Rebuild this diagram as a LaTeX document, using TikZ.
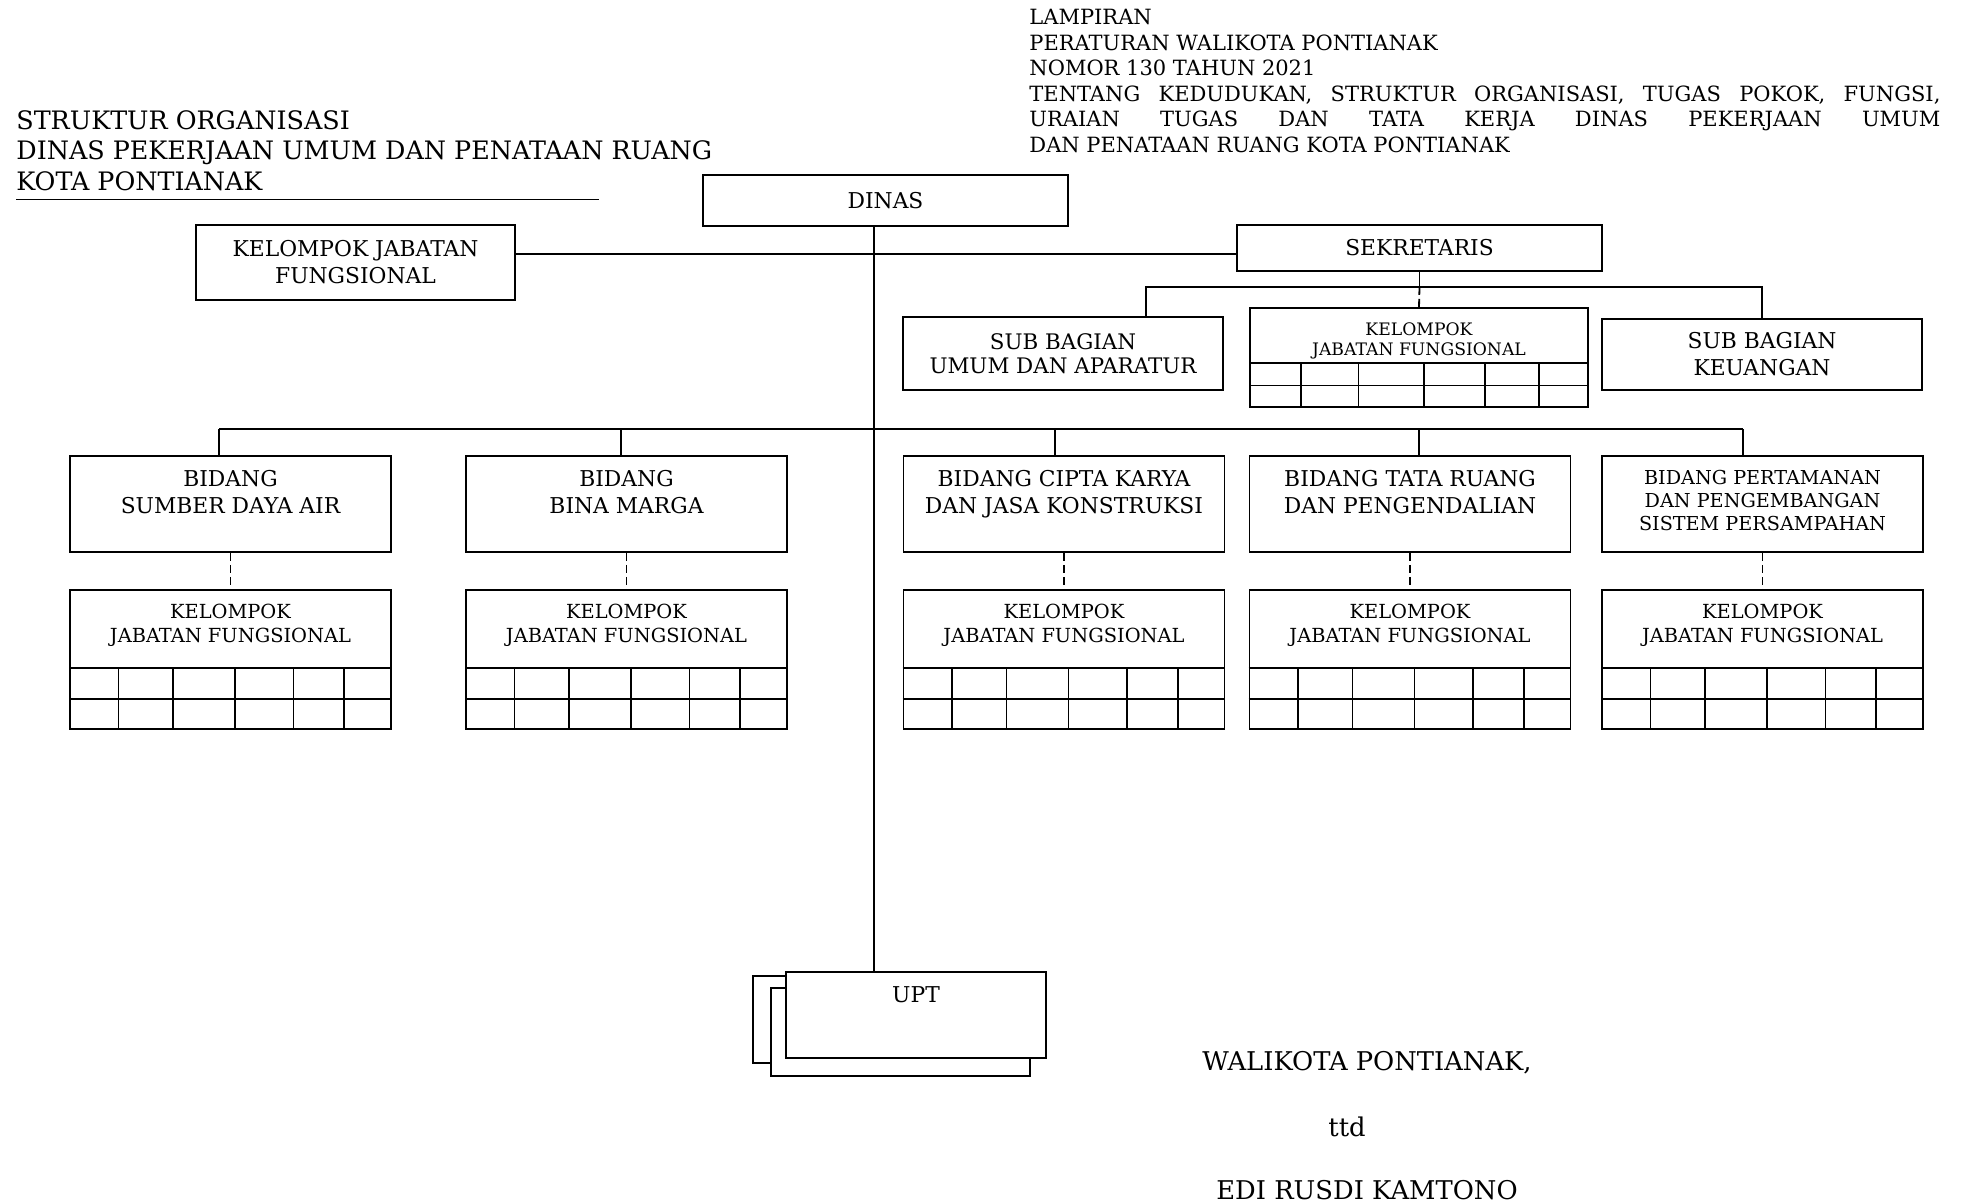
\documentclass[tikz,border=0pt]{standalone}
\usepackage{fontspec}
\setmainfont{DejaVu Serif}
\usetikzlibrary{positioning,calc}
\tikzset{orgbox/.style={draw,fill=white,line width=0.9pt,inner sep=0pt,align=center,
    font=\fontsize{10.9}{13.5}\selectfont},
  bidang/.style={orgbox,minimum width=160.5pt,minimum height=48pt},
  jfbox/.style={orgbox,minimum width=160.5pt,minimum height=69.5pt,font=\fontsize{9.7}{12}\selectfont},
  link/.style={line width=0.9pt},
  jflink/.style={link,dash pattern=on 4pt off 2pt}}
\newcommand{\topbox}[3][150pt]{\parbox[c][#2][t]{#1}{\centering\vspace*{7.2pt}#3}}
\newcommand{\jfgrid}[2]{%
  \draw[link] ([yshift=#2]#1.south west) -- ([yshift=#2]#1.south east)
    ([yshift=#2/2]#1.south west) -- ([yshift=#2/2]#1.south east);
  \foreach \f in {0.153,0.322,0.514,0.695,0.852}
    \draw[link] ($(#1.south west)!\f!(#1.south east)$) -- ++(0,#2);}

\begin{document}
\begin{tikzpicture}[x=0.5pt,y=-0.5pt]
\fill[white] (0,0) rectangle (1965,1204);
\useasboundingbox (0,0) rectangle (1965,1204);

\node[anchor=north west,inner sep=0pt,align=left,font=\fontsize{12.7}{15.25}\selectfont] (title) at (16,110)
  {STRUKTUR ORGANISASI\\DINAS PEKERJAAN UMUM DAN PENATAAN RUANG\\KOTA PONTIANAK};
\draw[link] ([yshift=-4.25pt]title.south west) -- ++(291.5pt,0);
\node[anchor=north west,inner sep=0pt,font=\fontsize{10.5}{12.75}\selectfont] (lampiran) at (1029,9)
  {\parbox[t]{455.5pt}{LAMPIRAN\\PERATURAN WALIKOTA PONTIANAK\\NOMOR 130 TAHUN 2021\\
   \makebox[\linewidth][s]{TENTANG KEDUDUKAN, STRUKTUR ORGANISASI, TUGAS POKOK, FUNGSI,}\\
   \makebox[\linewidth][s]{URAIAN TUGAS DAN TATA KERJA DINAS PEKERJAAN UMUM}\\
   DAN PENATAAN RUANG KOTA PONTIANAK}};

\node[orgbox,minimum width=182.5pt,minimum height=25.5pt] (dinas) at (885.5,200.5) {DINAS};
\node[orgbox,minimum width=159.5pt,minimum height=37.5pt] (kjf) at (355.5,262.5) {KELOMPOK JABATAN\\FUNGSIONAL};
\node[orgbox,minimum width=182.5pt,minimum height=23pt] (sekr) at (1419.5,248) {SEKRETARIS};
\node[orgbox,minimum width=160pt,minimum height=36.5pt,font=\fontsize{10.7}{12}\selectfont] (umum) at (1063,353.5) {SUB BAGIAN\\UMUM DAN APARATUR};
\node[jfbox,minimum width=169pt,minimum height=49.5pt,font=\fontsize{8.6}{10}\selectfont] (jfsek) at (1419,357.5)
  {\topbox{49.5pt}{KELOMPOK\\JABATAN FUNGSIONAL}};
\node[orgbox,minimum width=160pt,minimum height=35.5pt] (keu) at (1762,354.5) {SUB BAGIAN\\KEUANGAN};

\node[bidang] (b1) at (230.5,504) {\topbox{48pt}{BIDANG\\SUMBER DAYA AIR}};
\node[bidang] (b2) at (626.5,504) {\topbox{48pt}{BIDANG\\BINA MARGA}};
\node[bidang] (b3) at (1064,504) {\topbox{48pt}{BIDANG CIPTA KARYA\\DAN JASA KONSTRUKSI}};
\node[bidang] (b4) at (1410,504) {\topbox{48pt}{BIDANG TATA RUANG\\DAN PENGENDALIAN}};
\node[bidang,font=\fontsize{9.6}{11.5}\selectfont] (b5) at (1762.5,504)
  {\topbox{48pt}{BIDANG PERTAMANAN\\DAN PENGEMBANGAN\\SISTEM PERSAMPAHAN}};
\foreach \i in {1,...,5}{
  \node[jfbox,below=18pt of b\i] (k\i) {\topbox{69.5pt}{KELOMPOK\\JABATAN FUNGSIONAL}};
  \draw[jflink] (b\i) -- (k\i);
  \jfgrid{k\i}{31pt}
}

\node[orgbox,minimum width=130pt,minimum height=43.5pt] (upt3) at (883,1019.5) {};
\node[orgbox,minimum width=129.5pt,minimum height=44pt] (upt2) at (900.5,1032) {};
\node[orgbox,minimum width=130pt,minimum height=43pt] (upt) at (916,1015) {\topbox[120pt]{43pt}{UPT}};

% garis komando
\coordinate (trunk) at ([xshift=-5.75pt]dinas.south);
\draw[link] (trunk) -- (trunk |- upt.north);
\draw[link] ([yshift=4.25pt]kjf.east) coordinate (kj) -- (kj -| sekr.west);
\draw[link] (sekr.south) -- ++(0,-7.5pt) coordinate (sbus);
\draw[link] ([xshift=41.5pt]umum.north) |- (sbus) -| (keu.north);
\draw[jflink] (sbus) -- (jfsek.north);
\jfgrid{jfsek}{22.5pt}
\foreach \i/\dx in {1/-5.75,2/-2.75,3/-4.5,4/4.5,5/-9.75}
  \draw[link] ([xshift=\dx pt]b\i.north) -- ++(0,13pt);
\draw[link] ([xshift=-5.75pt,yshift=13pt]b1.north) -- ([xshift=-9.75pt,yshift=13pt]b5.north);

\node[font=\fontsize{12.9}{15}\selectfont] (wali) at (1367,1063) {WALIKOTA PONTIANAK,};
\node[font=\fontsize{12.9}{15}\selectfont] (ttd) at (1347,1127) {ttd};
\node[font=\fontsize{12.9}{15}\selectfont] (nama) at (1367,1190) {EDI RUSDI KAMTONO};
\end{tikzpicture}
\end{document}
